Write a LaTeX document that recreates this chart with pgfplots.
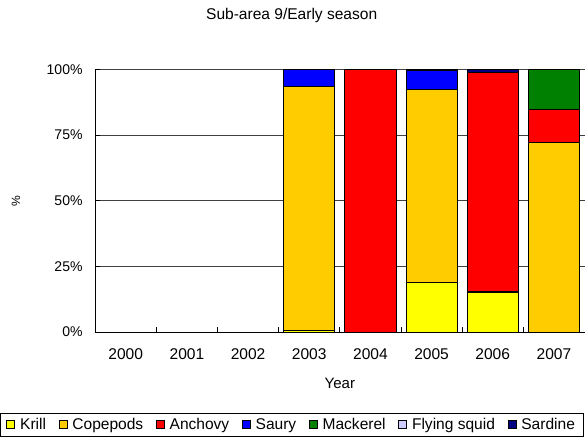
\documentclass[border=0pt]{standalone}
\usepackage{fontspec}
\setmainfont{Liberation Sans}
\usepackage{pgfplots}
\pgfplotsset{compat=1.18}

\definecolor{krill}{HTML}{FFFF00}
\definecolor{copepods}{HTML}{FFCC00}
\definecolor{anchovy}{HTML}{FF0000}
\definecolor{saury}{HTML}{0000FF}
\definecolor{mackerel}{HTML}{008000}
\definecolor{squid}{HTML}{CCCCFF}
\definecolor{sardine}{HTML}{000080}

\begin{document}
\begin{tikzpicture}
\begin{axis}[
    scale only axis,
    width=488pt, height=262pt,
    ybar stacked, bar width=51pt,
    xmin=-0.5, xmax=7.5, ymin=0, ymax=100,
    xtick={0,...,7},
    xticklabels={2000,2001,2002,2003,2004,2005,2006,2007},
    minor xtick={0.5,1.5,...,6.5},
    ytick={0,25,50,75,100},
    yticklabel={\pgfmathprintnumber{\tick}\%},
    /pgf/number format/assume math mode=true,
    axis lines=left,
    axis line style={-, line width=1pt},
    tick align=inside,
    major x tick style={draw=none},
    minor tick length=5pt, major tick length=5pt,
    every tick/.style={black, line width=0.8pt},
    ymajorgrids,
    grid style={black!75, line width=0.8pt},
    ticklabel style={font=\fontsize{15.5}{17}\selectfont},
    x tick label style={yshift=-13pt},
    y tick label style={xshift=-9pt, font=\fontsize{14}{16}\selectfont},
    title={Sub-area 9/Early season},
    title style={at={(0.4016,1.183)}, anchor=center, inner ysep=8pt,
        font=\fontsize{15.5}{17}\selectfont},
    xlabel={Year},
    xlabel style={at={(0.5,-0.195)}, anchor=center, font=\fontsize{15}{17}\selectfont},
    ylabel={\%},
    ylabel style={at={(-0.162,0.5)}, anchor=center, font=\fontsize{12}{14}\selectfont},
    every axis plot post/.append style={draw=black, line width=0.8pt},
    legend columns=-1,
    legend image code/.code={\draw[#1, draw=black, line width=0.7pt] (0pt,-4pt) rectangle (8pt,4pt);},
    legend style={at={(0.4016,-0.309)}, anchor=north, draw=black, line width=0.8pt,
        outer sep=0pt,
        font=\fontsize{15.5}{17}\selectfont,
        nodes={inner xsep=2pt},
        /tikz/every odd column/.append style={column sep=3pt},
        /tikz/every even column/.append style={column sep=10.6pt},
        inner xsep=6pt, inner ysep=3pt},
]
\addplot[fill=krill] coordinates {(3,0.5) (4,0) (5,19) (6,15) (7,0)};
\addplot[fill=copepods] coordinates {(3,93.0) (4,0) (5,73.4) (6,0.5) (7,72.2)};
\addplot[fill=anchovy] coordinates {(3,0) (4,100) (5,0) (6,83.3) (7,12.6)};
\addplot[fill=saury] coordinates {(3,6.5) (4,0) (5,7.1) (6,0) (7,0)};
\addplot[fill=mackerel] coordinates {(3,0) (4,0) (5,0) (6,0) (7,15.2)};
\addplot[fill=squid] coordinates {(3,0) (4,0) (5,0) (6,0) (7,0)};
\addplot[fill=sardine] coordinates {(3,0) (4,0) (5,0.5) (6,1.2) (7,0)};
\legend{Krill, Copepods, Anchovy, Saury, Mackerel, Flying squid, Sardine}
\end{axis}
\end{tikzpicture}
\end{document}
